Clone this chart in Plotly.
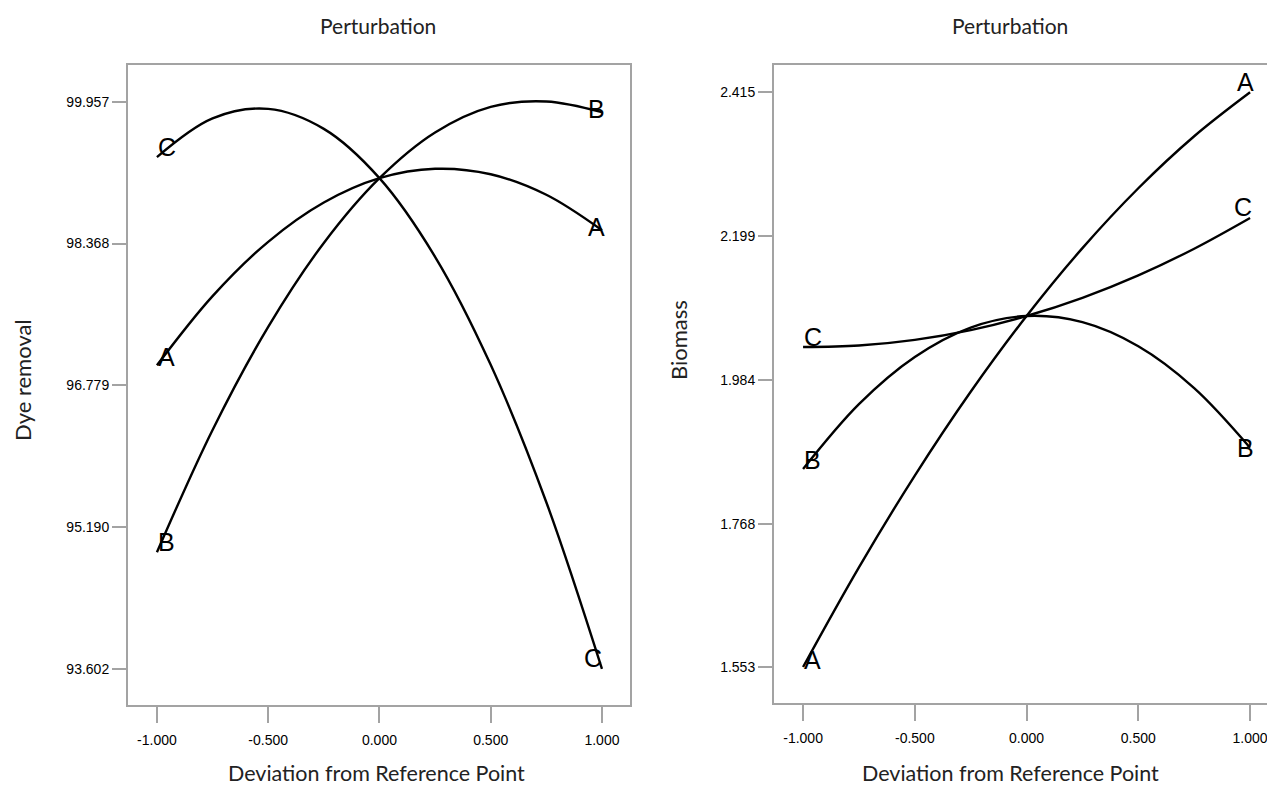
import plotly.graph_objects as go

# ---------------- data ----------------
dev = [-1.0, -0.75, -0.5, -0.25, 0.0, 0.25, 0.5, 0.75, 1.0]

# Left panel: Dye removal
dye_A = [97.004, 97.779, 98.388, 98.828, 99.101, 99.206, 99.145, 98.915, 98.518]
dye_B = [94.910, 96.280, 97.435, 98.375, 99.101, 99.613, 99.900, 99.960, 99.840]
dye_C = [99.337, 99.771, 99.877, 99.653, 99.101, 98.220, 97.009, 95.470, 93.602]

# Right panel: Biomass
bio_A = [1.553, 1.7025, 1.8401, 1.9658, 2.0795, 2.1813, 2.2711, 2.3491, 2.415]
bio_B = [1.850, 1.9474, 2.0181, 2.0622, 2.0795, 2.0702, 2.0341, 1.9714, 1.882]
bio_C = [2.033, 2.0352, 2.0437, 2.0584, 2.0795, 2.1068, 2.1405, 2.1804, 2.2265]

x_ticks = [-1.0, -0.5, 0.0, 0.5, 1.0]
x_ticktext = ["-1.000", "-0.500", "0.000", "0.500", "1.000"]
dye_ticks = [93.602, 95.190, 96.779, 98.368, 99.957]
dye_ticktext = ["93.602", "95.190", "96.779", "98.368", "99.957"]
bio_ticks = [1.553, 1.768, 1.984, 2.199, 2.415]
bio_ticktext = ["1.553", "1.768", "1.984", "2.199", "2.415"]

factor_labels = ["A", "B", "C"]

# ---------------- figure ----------------
W, H = 1267, 786
fig = go.Figure()

line_style = dict(color="#000000", width=2.4, shape="spline", smoothing=1.0)

for series in (dye_A, dye_B, dye_C):
    fig.add_trace(go.Scatter(x=dev, y=series, mode="lines", line=line_style,
                             xaxis="x", yaxis="y", showlegend=False, hoverinfo="skip"))
for series in (bio_A, bio_B, bio_C):
    fig.add_trace(go.Scatter(x=dev, y=series, mode="lines", line=line_style,
                             xaxis="x2", yaxis="y2", showlegend=False, hoverinfo="skip"))

frame_col = "#a3a3a3"
tick_font = dict(family="Liberation Sans, Arial", size=14, color="#000000")

common_x = dict(showgrid=False, zeroline=False, showline=True, linecolor=frame_col, linewidth=2,
                ticks="outside", ticklen=16, tickwidth=2, tickcolor=frame_col,
                tickvals=x_ticks, ticktext=x_ticktext, tickfont=tick_font, mirror=True,
                ticklabelstandoff=5, ticklabeloverflow="allow")
common_y = dict(showgrid=False, zeroline=False, showline=True, linecolor=frame_col, linewidth=2,
                ticks="outside", ticklen=14, tickwidth=2, tickcolor=frame_col, tickfont=tick_font)

ybot = 1 - 705 / H
ytop = 1 - 65 / H

fig.update_layout(
    width=W, height=H,
    margin=dict(l=0, r=0, t=0, b=0),
    paper_bgcolor="white", plot_bgcolor="white",
    xaxis=dict(domain=[128 / W, 630 / W], range=[-1.13, 1.126], anchor="y", **common_x),
    yaxis=dict(domain=[ybot, ytop], range=[93.198, 100.369], anchor="x",
               tickvals=dye_ticks, ticktext=dye_ticktext, mirror=True, **common_y),
    xaxis2=dict(domain=[774 / W, 1.0], range=[-1.13, 1.0758], anchor="y2", **common_x),
    yaxis2=dict(domain=[1 - 703 / H, ytop], range=[1.499, 2.456], anchor="x2",
                tickvals=bio_ticks, ticktext=bio_ticktext, mirror=False, **common_y),
)

title_font = dict(family="Lato, Open Sans", size=21, color="#222222")
annotations = [
    dict(text="Perturbation", x=378 / W, y=1 - 25 / H, xref="paper", yref="paper",
         showarrow=False, font=title_font, xanchor="center", yanchor="middle"),
    dict(text="Perturbation", x=1010 / W, y=1 - 25 / H, xref="paper", yref="paper",
         showarrow=False, font=title_font, xanchor="center", yanchor="middle"),
    dict(text="Deviation from Reference Point", x=376 / W, y=1 - 773 / H, xref="paper", yref="paper",
         showarrow=False, font=dict(title_font, size=21.5), xanchor="center", yanchor="middle"),
    dict(text="Deviation from Reference Point", x=1010 / W, y=1 - 773 / H, xref="paper", yref="paper",
         showarrow=False, font=dict(title_font, size=21.5), xanchor="center", yanchor="middle"),
    dict(text="Dye removal", x=22 / W, y=1 - 380 / H, xref="paper", yref="paper", textangle=-90,
         showarrow=False, font=dict(title_font, size=22), xanchor="center", yanchor="middle"),
    dict(text="Biomass", x=678 / W, y=1 - 340 / H, xref="paper", yref="paper", textangle=-90,
         showarrow=False, font=dict(title_font, size=22), xanchor="center", yanchor="middle"),
]

letter_font = dict(family="Liberation Sans, Arial", size=25, color="#000000")
# (series, axis suffix, end index, xshift, yshift)
label_specs = [
    (dye_A, "", 0, 10, 8), (dye_B, "", 0, 10, 10), (dye_C, "", 0, 10, 10),
    (dye_A, "", -1, -5, 3), (dye_B, "", -1, -5, 3), (dye_C, "", -1, -9, 11),
    (bio_A, "2", 0, 9, 7), (bio_B, "2", 0, 9, 9), (bio_C, "2", 0, 10, 10),
    (bio_A, "2", -1, -5, 10), (bio_B, "2", -1, -5, 0), (bio_C, "2", -1, -7, 11),
]
series_names = {id(dye_A): "A", id(dye_B): "B", id(dye_C): "C",
                id(bio_A): "A", id(bio_B): "B", id(bio_C): "C"}
for series, ax, idx, xs, ys in label_specs:
    annotations.append(dict(
        text=series_names[id(series)], x=dev[idx], y=series[idx],
        xref="x" + ax, yref="y" + ax, showarrow=False, font=letter_font,
        xanchor="center", yanchor="middle", xshift=xs, yshift=ys))

fig.update_layout(annotations=annotations)

fig.write_html("out.html")
